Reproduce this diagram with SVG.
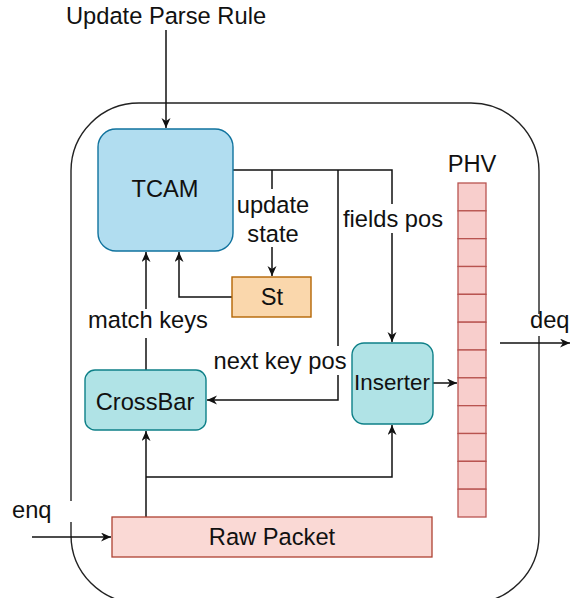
<svg xmlns="http://www.w3.org/2000/svg" width="571" height="598" viewBox="0 0 571 598">
  <style>
    text { font-family: "Liberation Sans", Arial, Helvetica, sans-serif; font-size: 23.7px; fill: #111; }
    .c { text-anchor: middle; }
    .edge { fill: none; stroke: #111; stroke-width: 1.5; }
    .lblbg { fill: #fff; stroke: none; }
    .cell { fill: #f8cecc; stroke: #b85450; stroke-width: 1.3; }
  </style>
  <defs>
    <marker id="arrow" markerUnits="userSpaceOnUse" markerWidth="12" markerHeight="10" refX="10" refY="4.5" orient="auto">
      <path d="M0,0 L10,4.5 L0,9 L3,4.5 z" fill="#111"/>
    </marker>
  </defs>

  <!-- parser boundary -->
  <rect x="71" y="103" width="468" height="500" rx="68" ry="68" fill="none" stroke="#222" stroke-width="1.4"/>

  <!-- connectors -->
  <g id="connectors">
    <path class="edge" d="M166,30 V128" marker-end="url(#arrow)"/>
    <path class="edge" d="M233,170 H392 V342" marker-end="url(#arrow)"/>
    <path class="edge" d="M272,170 V276" marker-end="url(#arrow)"/>
    <path class="edge" d="M338,170 V400 H207" marker-end="url(#arrow)"/>
    <path class="edge" d="M232,297 H179 V252" marker-end="url(#arrow)"/>
    <path class="edge" d="M146,370 V252" marker-end="url(#arrow)"/>
    <path class="edge" d="M146,517 V431" marker-end="url(#arrow)"/>
    <path class="edge" d="M146,477 H392 V425" marker-end="url(#arrow)"/>
    <path class="edge" d="M433,383 H457" marker-end="url(#arrow)"/>
    <path class="edge" d="M32,537 H111" marker-end="url(#arrow)"/>
    <path class="edge" d="M500,343 H570" marker-end="url(#arrow)"/>

    <!-- edge labels -->
    <rect class="lblbg" x="236" y="189" width="74" height="58"/>
    <text class="c" x="273" y="213">update</text>
    <text class="c" x="273" y="242">state</text>

    <rect class="lblbg" x="342" y="204" width="102" height="29"/>
    <text class="c" x="393" y="227">fields pos</text>

    <rect class="lblbg" x="212" y="346" width="135" height="29"/>
    <text class="c" x="280" y="369">next key pos</text>

    <rect class="lblbg" x="87" y="309" width="122" height="29"/>
    <text class="c" x="148" y="328">match keys</text>

    <rect class="lblbg" x="10" y="501" width="66" height="21"/>
    <text x="12" y="518">enq</text>

    <rect class="lblbg" x="527" y="314" width="44" height="22"/>
    <text x="530" y="328">deq</text>

    <text class="c" x="166" y="24">Update Parse Rule</text>
  </g>

  <g id="tcam">
    <rect x="98" y="129" width="135" height="122" rx="18" ry="18" fill="#b1ddf0" stroke="#10739e" stroke-width="1.4"/>
    <text class="c" x="165" y="197">TCAM</text>
  </g>

  <g id="st">
    <rect x="232" y="277" width="79" height="40" fill="#fad7ac" stroke="#b46504" stroke-width="1.4"/>
    <text class="c" x="272" y="305">St</text>
  </g>

  <g id="crossbar">
    <rect x="85" y="370" width="121" height="60" rx="10" ry="10" fill="#b0e3e6" stroke="#0e8088" stroke-width="1.4"/>
    <text class="c" x="145" y="410">CrossBar</text>
  </g>

  <g id="inserter">
    <rect x="352" y="343" width="81" height="81" rx="12" ry="12" fill="#b0e3e6" stroke="#0e8088" stroke-width="1.4"/>
    <text class="c" x="392" y="390" style="font-size:22.4px">Inserter</text>
  </g>

  <g id="raw-packet">
    <rect x="112" y="517" width="320" height="40" fill="#fad9d5" stroke="#ae4132" stroke-width="1.3"/>
    <text class="c" x="272" y="545">Raw Packet</text>
  </g>

  <g id="phv">
    <text class="c" x="472" y="172">PHV</text>
    <rect class="cell" x="458" y="183" width="28" height="27.83"/>
    <rect class="cell" x="458" y="210.83" width="28" height="27.83"/>
    <rect class="cell" x="458" y="238.67" width="28" height="27.83"/>
    <rect class="cell" x="458" y="266.5" width="28" height="27.83"/>
    <rect class="cell" x="458" y="294.33" width="28" height="27.83"/>
    <rect class="cell" x="458" y="322.17" width="28" height="27.83"/>
    <rect class="cell" x="458" y="350" width="28" height="27.83"/>
    <rect class="cell" x="458" y="377.83" width="28" height="27.83"/>
    <rect class="cell" x="458" y="405.67" width="28" height="27.83"/>
    <rect class="cell" x="458" y="433.5" width="28" height="27.83"/>
    <rect class="cell" x="458" y="461.33" width="28" height="27.83"/>
    <rect class="cell" x="458" y="489.17" width="28" height="27.83"/>
  </g>
</svg>
